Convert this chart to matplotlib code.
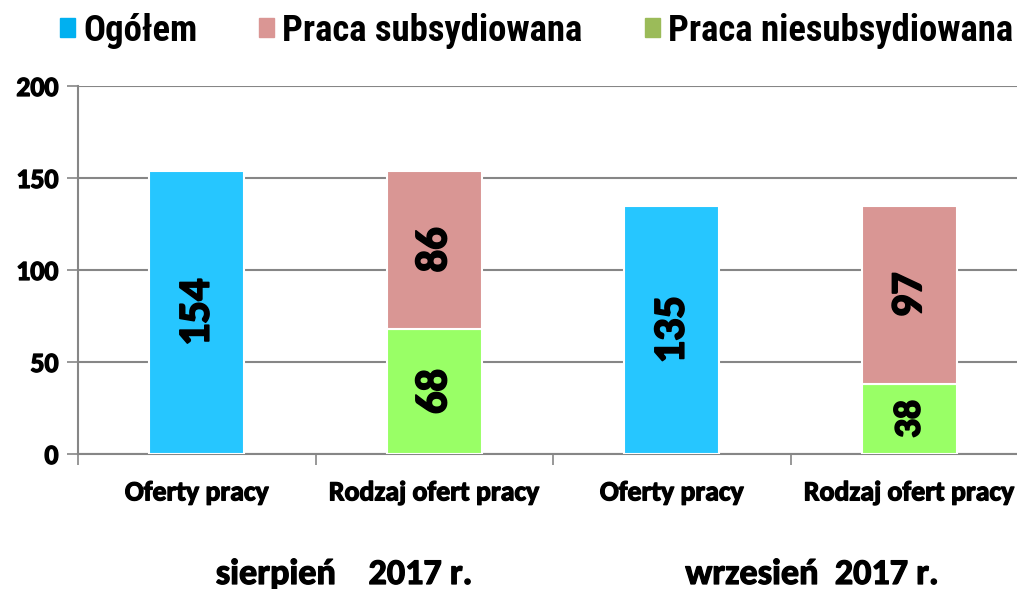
import numpy as np
import matplotlib.pyplot as plt
import matplotlib.patheffects as pe
from matplotlib.patches import Patch

# data
categories = ['Oferty pracy', 'Rodzaj ofert pracy', 'Oferty pracy', 'Rodzaj ofert pracy']
months = ['sierpień    2017 r.', 'wrzesień  2017 r.']
ogolem = [154, 135]          # bars at positions 0 and 2
subsydiowana = [86, 97]      # stacked on top, positions 1 and 3
niesubsydiowana = [68, 38]   # stacked bottom, positions 1 and 3
legend_labels = ['Ogółem', 'Praca subsydiowana', 'Praca niesubsydiowana']

bar_blue = '#26C6FF'
bar_pink = '#D99694'
bar_green = '#99FF66'
leg_colors = ['#00B0F0', '#DA9694', '#9BBB59']
grid_c = '#868686'
calibri_like = ['Carlito', 'Open Sans']
narrow = ['Roboto Condensed', 'Archivo Narrow', 'Liberation Sans']
# thicken the Calibri-like bold a bit
heavy = [pe.withStroke(linewidth=0.9, foreground='black')]

fig = plt.figure(figsize=(10.17, 5.89), dpi=100)
ax = fig.add_axes([78/1017, 135/589, 950/1017, 368/589])

x_og = np.array([0, 2])
x_st = np.array([1, 3])
w = 0.4
ax.bar(x_og, ogolem, w, color=bar_blue, edgecolor='white', linewidth=1.5, zorder=3)
ax.bar(x_st, niesubsydiowana, w, color=bar_green, edgecolor='white', linewidth=1.5, zorder=3)
ax.bar(x_st, subsydiowana, w, bottom=niesubsydiowana, color=bar_pink,
       edgecolor='white', linewidth=1.5, zorder=3)

# value labels, rotated inside bars
def bar_label(xc, yc, v):
    ax.text(xc, yc, str(v), rotation=90, ha='center', va='center',
            fontsize=32 if v > 50 else 27, fontweight='bold', family=calibri_like,
            zorder=4, path_effects=[pe.withStroke(linewidth=1.2, foreground='black')])

for xi, v in zip(x_og, ogolem):
    bar_label(xi, v / 2, v)
for xi, b, t in zip(x_st, niesubsydiowana, subsydiowana):
    bar_label(xi, b / 2, b)
    bar_label(xi, b + t / 2, t)

ax.set_xlim(-0.5, 3.5)
ax.set_ylim(0, 200)
ax.set_yticks(np.arange(0, 201, 50))
ax.yaxis.grid(True, color=grid_c, linewidth=1.5, zorder=0)
ax.set_axisbelow(True)

# category boundaries carry the ticks, labels sit centred in between
ax.set_xticks(np.arange(-0.5, 4, 1.0))
ax.set_xticklabels([])
ax.set_xticks(np.arange(4), minor=True)
ax.set_xticklabels(categories, minor=True, fontsize=20, fontweight='bold', family=calibri_like)
ax.tick_params(axis='x', which='minor', length=0, pad=19)
ax.tick_params(axis='x', which='major', length=8, width=1.2, color=grid_c)
ax.tick_params(axis='y', length=8, width=1.2, color=grid_c, pad=6)
for lab in ax.get_yticklabels():
    lab.set_fontsize(20)
    lab.set_fontweight('bold')
    lab.set_family(calibri_like)
    lab.set_path_effects(heavy)
for lab in ax.get_xticklabels(minor=True):
    lab.set_path_effects(heavy)

for s in ['top', 'right']:
    ax.spines[s].set_visible(False)
ax.spines['left'].set_color(grid_c)
ax.spines['left'].set_linewidth(1.5)
ax.spines['bottom'].set_color(grid_c)
ax.spines['bottom'].set_linewidth(1.5)

# month labels below
fig.text(344/1017, 1 - 574/589, months[0], ha='center', va='center',
         fontsize=26, fontweight='bold', family=calibri_like, path_effects=heavy)
fig.text(812/1017, 1 - 574/589, months[1], ha='center', va='center',
         fontsize=26, fontweight='bold', family=calibri_like, path_effects=heavy)

handles = [Patch(color=c) for c in leg_colors]
fig.legend(handles, legend_labels, loc='center left', bbox_to_anchor=(60/1017, 1 - 31/589),
           ncol=3, frameon=False, handlelength=0.41, handleheight=0.41,
           handletextpad=0.22, columnspacing=1.68, borderpad=0, borderaxespad=0,
           prop={'family': narrow, 'weight': 'bold', 'size': 26.5})

fig.savefig('out.png', dpi=100)
